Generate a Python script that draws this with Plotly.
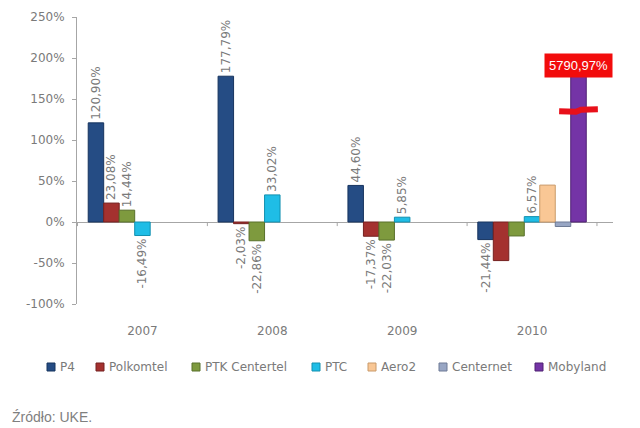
import plotly.graph_objects as go

# ---- data ----
years = ["2007", "2008", "2009", "2010"]
p4 = [120.90, 177.79, 44.60, -21.44]
polkomtel = [23.08, -2.03, -17.37, -47.06]
ptk_centertel = [14.44, -22.86, -22.03, -17.0]
ptc = [-16.49, 33.02, 5.85, 6.57]
aero2 = [None, None, None, 45.0]
centernet = [None, None, None, -5.5]
mobyland = [None, None, None, 5790.97]

series_names = ["P4", "Polkomtel", "PTK Centertel", "PTC", "Aero2", "Centernet", "Mobyland"]
series_values = [p4, polkomtel, ptk_centertel, ptc, aero2, centernet, mobyland]
# which values carry a data label in the original
label_shown = [
    [True, True, True, True],
    [True, True, True, False],
    [True, True, True, False],
    [True, True, True, True],
    [False, False, False, False],
    [False, False, False, False],
    [False, False, False, False],
]
y_ticks = [-100, -50, 0, 50, 100, 150, 200, 250]

colors = ["#254C84", "#A4312F", "#7E9A3E", "#1FBDE6", "#F9C795", "#98A6C4", "#7434A6"]
edge_colors = ["#17345E", "#742120", "#58702A", "#1390B0", "#C99A6A", "#6E7B96", "#4F2173"]

MOBY_CAP = 200  # bar drawn with a broken axis
BREAK_Y = 136

BARGAP = 0.165
N = len(series_names)

# layout geometry (px)
W, H = 640, 428
ML, MR, MT, MB = 77, 27, 17, 124
PW, PH = W - ML - MR, H - MT - MB
LEGEND_PX = [47, 96, 192, 312, 368, 439, 535]
LEGEND_PY = 367

FONT = "DejaVu Sans, Verdana, sans-serif"
GRAY = "#7A7A7A"


def fmt(v):
    return f"{v:.2f}".replace(".", ",") + "%"


def px_x(px):
    return (px - ML) / PW


def px_y(py):
    return (H - MB - py) / PH


fig = go.Figure()
for i, (name, vals) in enumerate(zip(series_names, series_values)):
    shown = [None if v is None else min(v, MOBY_CAP) for v in vals]
    texts = [fmt(v) if (v is not None and s) else "" for v, s in zip(vals, label_shown[i])]
    fig.add_trace(go.Bar(
        name=name, x=years, y=shown,
        marker=dict(color=colors[i], line=dict(color=edge_colors[i], width=1)),
        text=texts, textposition="outside", textangle=-90, constraintext="none",
        textfont=dict(size=12, color=GRAY, family=FONT),
        cliponaxis=False, showlegend=False,
    ))

# position of the Mobyland bar within the 2010 group
slot = (1 - BARGAP) / N
moby_x = 3 - (1 - BARGAP) / 2 + (N - 0.5) * slot

shapes = []
# category boundary ticks on the zero line
for b in [-0.5, 0.5, 1.5, 2.5, 3.5]:
    shapes.append(dict(type="line", xref="x", yref="y", x0=b, x1=b, y0=0, y1=-5,
                       line=dict(color="#A6A6A6", width=1)))
# axis-break marker across the Mobyland bar
hw = slot * 1.25
shapes.append(dict(
    type="path", xref="x", yref="y",
    path=(f"M {moby_x-hw} {BREAK_Y-1} L {moby_x-0.02} {BREAK_Y-1.5} "
          f"L {moby_x+0.02} {BREAK_Y+1} L {moby_x+hw} {BREAK_Y+1.5}"),
    line=dict(color="#E8101A", width=6),
))

annotations = [
    dict(x=moby_x, y=191, xref="x", yref="y", text=fmt(mobyland[3]),
         showarrow=False, bgcolor="#F20C0C",
         font=dict(color="white", size=13, family="Liberation Sans, Arial"),
         borderpad=4, xanchor="center", yanchor="middle"),
    dict(x=px_x(10), y=px_y(417), xref="paper", yref="paper", text="Źródło: UKE.",
         showarrow=False, xanchor="left", yanchor="middle",
         font=dict(size=14, color="#7F7F7F", family="Liberation Sans, Arial")),
]

# legend row
SW = 8
for name, c, ec, lx in zip(series_names, colors, edge_colors, LEGEND_PX):
    shapes.append(dict(type="rect", xref="paper", yref="paper",
                       x0=px_x(lx), x1=px_x(lx + SW),
                       y0=px_y(LEGEND_PY + SW / 2), y1=px_y(LEGEND_PY - SW / 2),
                       fillcolor=c, line=dict(color=ec, width=1)))
    annotations.append(dict(x=px_x(lx + SW + 3), y=px_y(LEGEND_PY), xref="paper", yref="paper",
                            text=name, showarrow=False, xanchor="left", yanchor="middle",
                            font=dict(size=12, color=GRAY, family=FONT)))

fig.update_layout(
    width=W, height=H,
    margin=dict(l=ML, r=MR, t=MT, b=MB, autoexpand=False),
    paper_bgcolor="white", plot_bgcolor="white",
    barmode="group", bargap=BARGAP, bargroupgap=0,
    font=dict(family=FONT, color=GRAY, size=12),
    showlegend=False,
    shapes=shapes, annotations=annotations,
    xaxis=dict(type="category", showline=False, ticks="", showgrid=False,
               tickfont=dict(size=12, color=GRAY), ticklabelstandoff=18),
    yaxis=dict(range=[-100, 250], tickvals=y_ticks, ticktext=[f"{t}%" for t in y_ticks],
               showgrid=False, showline=True, linecolor="#A6A6A6", ticks="outside",
               ticklen=4, tickcolor="#A6A6A6", zeroline=True, zerolinecolor="#A6A6A6",
               zerolinewidth=1, tickfont=dict(size=12, color=GRAY), ticklabelstandoff=5),
)

fig.write_html("out.html", config={"displayModeBar": False},
               post_script="document.body.style.margin='0';document.body.style.overflow='hidden';")
